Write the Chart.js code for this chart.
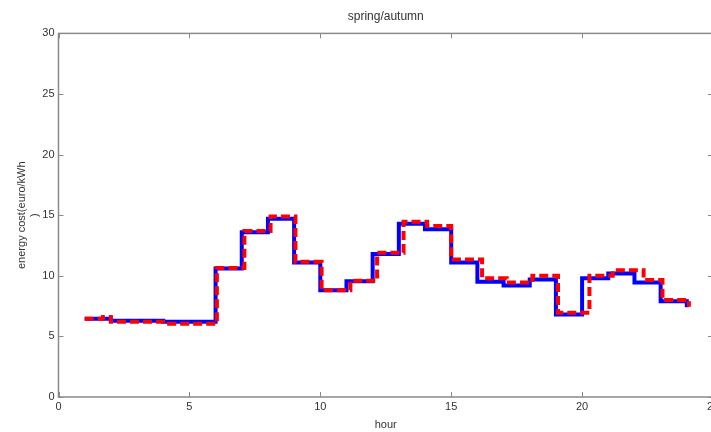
<!DOCTYPE html>
<html>
<head>
<meta charset="utf-8">
<script src="https://cdn.jsdelivr.net/npm/chart.js@4/dist/chart.umd.min.js"></script>
<style>
  html, body { margin: 0; padding: 0; background: #fff; overflow: hidden; }
  #wrap { width: 711px; height: 432px; overflow: hidden; }
</style>
</head>
<body>
<div id="wrap"><canvas id="costChart" width="720" height="432"></canvas></div>
<script>
// blue: hourly tariff (stairs at whole hours)
const hours = [1, 2, 3, 4, 5, 6, 7, 8, 9, 10, 11, 12, 13, 14, 15, 16, 17, 18, 19, 20, 21, 22, 23, 24];
const blueCost = [6.45, 6.3, 6.3, 6.2, 6.2, 10.6, 13.6, 14.7, 11.1, 8.8, 9.55, 11.8, 14.3, 13.85, 11.1, 9.5, 9.2, 9.7, 6.8, 9.8, 10.2, 9.45, 7.9, 7.4];

// red dashed: steps slightly later than the blue one
const redHours = [1, 1.7, 2.0, 4.15, 6.05, 7.1, 8.1, 9.05, 10.05, 11.15, 12.17, 13.18, 14.08, 15.0, 16.18, 17.12, 18.1, 19.08, 20.28, 21.17, 22.35, 23.07, 24.08];
const redCost = [6.45, 6.6, 6.2, 6.05, 10.65, 13.7, 14.9, 11.15, 8.8, 9.6, 11.9, 14.45, 14.1, 11.35, 9.8, 9.45, 10.0, 6.95, 10.0, 10.45, 9.65, 8.0, 7.45];

const xTicks = [0, 5, 10, 15, 20, 25];
const yTicks = [0, 5, 10, 15, 20, 25, 30];

const axisGray = "#8a8a8a";
const textGray = "#333333";
const fontFam = "'Liberation Sans', Arial, sans-serif";

// box round the plot with small inward ticks on all four sides
const boxPlugin = {
    id: "box",
    afterDraw(chart) {
        const ctx = chart.ctx;
        const a = chart.chartArea;
        const xs = chart.scales.x, ys = chart.scales.y;
        const len = 5;
        ctx.save();
        ctx.strokeStyle = axisGray;
        ctx.lineWidth = 1.5;
        ctx.strokeRect(a.left, a.top, a.right - a.left, a.bottom - a.top);
        ctx.lineWidth = 1;
        ctx.beginPath();
        xTicks.forEach(v => {
            const px = Math.round(xs.getPixelForValue(v)) + 0.5;
            ctx.moveTo(px, a.bottom); ctx.lineTo(px, a.bottom - len);
            ctx.moveTo(px, a.top); ctx.lineTo(px, a.top + len);
        });
        yTicks.forEach(v => {
            const py = Math.round(ys.getPixelForValue(v)) + 0.5;
            ctx.moveTo(a.left, py); ctx.lineTo(a.left + len, py);
            ctx.moveTo(a.right, py); ctx.lineTo(a.right - len, py);
        });
        ctx.stroke();
        ctx.restore();
    }
};

const ctx = document.getElementById("costChart").getContext("2d");
const costChart = new Chart(ctx, {
    type: "line",
    data: {
        datasets: [
            {
                label: "red",
                data: redHours.map((h, i) => ({ x: h, y: redCost[i] })),
                borderColor: "#ff0000",
                borderWidth: 4,
                borderDash: [9, 4],
                stepped: "before",
                pointRadius: 0,
                fill: false
            },
            {
                label: "blue",
                data: hours.map((h, i) => ({ x: h, y: blueCost[i] })),
                borderColor: "#0000ff",
                borderWidth: 4,
                stepped: "before",
                pointRadius: 0,
                fill: false
            }
        ]
    },
    options: {
        responsive: false,
        animation: false,
        devicePixelRatio: 1,
        layout: { padding: { top: 0, right: 7, bottom: 0, left: 0 } },
        plugins: {
            legend: { display: false },
            tooltip: { enabled: false },
            title: {
                display: true,
                text: "spring/autumn",
                fullSize: false,
                color: textGray,
                font: { family: fontFam, size: 12, weight: "normal" },
                padding: { top: 9, bottom: 10 }
            }
        },
        scales: {
            x: {
                type: "linear",
                min: 0,
                max: 25,
                afterFit(scale) {
                    scale.height = 35;
                    scale.paddingLeft = 0;
                    scale.paddingRight = 0;
                },
                afterBuildTicks(scale) { scale.ticks = xTicks.map(v => ({ value: v })); },
                grid: { display: false, drawTicks: false },
                border: { display: false },
                ticks: {
                    color: textGray,
                    padding: 3,
                    maxRotation: 0,
                    autoSkip: false,
                    font: { family: fontFam, size: 11 }
                },
                title: {
                    display: true,
                    text: "hour",
                    color: textGray,
                    padding: { top: 0, bottom: 0 },
                    font: { family: fontFam, size: 11 }
                }
            },
            y: {
                min: 0,
                max: 30,
                afterFit(scale) { scale.width = 58.5; },
                afterBuildTicks(scale) { scale.ticks = yTicks.map(v => ({ value: v })); },
                grid: { display: false, drawTicks: false },
                border: { display: false },
                ticks: {
                    color: textGray,
                    padding: 4,
                    autoSkip: false,
                    font: { family: fontFam, size: 11 }
                },
                title: {
                    display: true,
                    text: ["energy cost(euro/kWh", ")"],
                    color: textGray,
                    padding: { top: 15, bottom: 0 },
                    font: { family: fontFam, size: 11 }
                }
            }
        }
    },
    plugins: [boxPlugin]
});
</script>
</body>
</html>
